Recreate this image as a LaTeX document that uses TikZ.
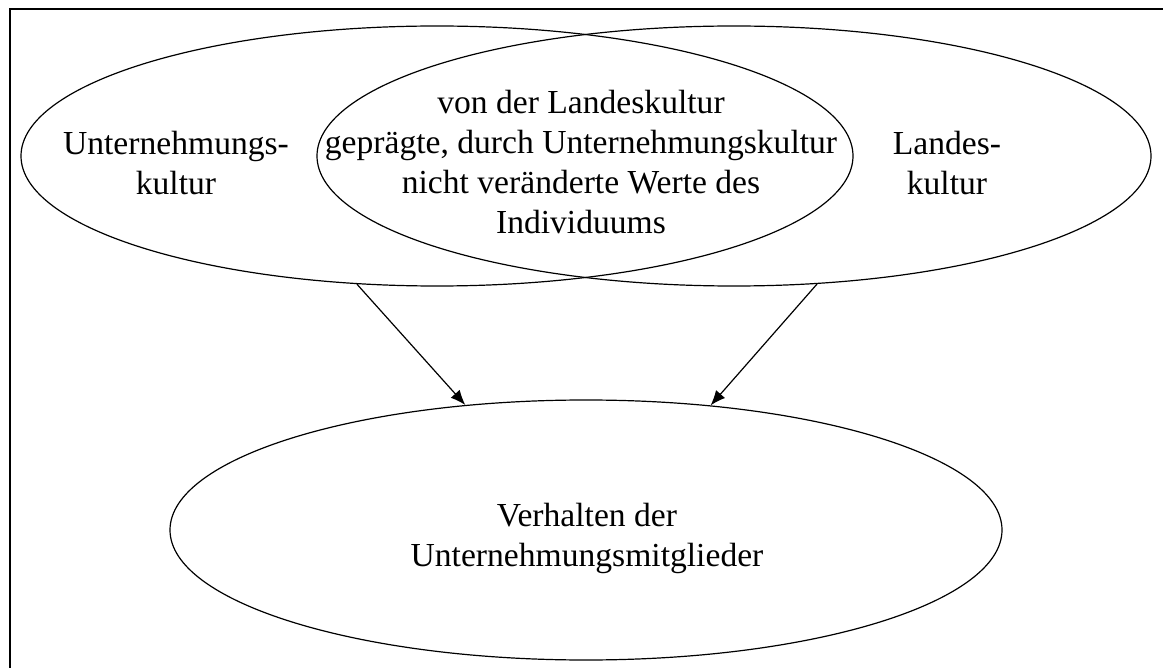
\documentclass[tikz,border=0pt]{standalone}
\usepackage{fontspec}
\setmainfont{Liberation Serif}
\usetikzlibrary{shapes.geometric,arrows.meta}
\begin{document}
\begin{tikzpicture}[x=0.5pt,y=-0.5pt,
  oval/.style={draw, ellipse, line width=0.6pt, inner sep=0pt},
  caption/.style={align=center, font=\fontsize{16.8}{20}\selectfont, inner sep=0pt},
  link/.style={line width=0.6pt, -{Latex[length=7.5pt,width=6pt]}},
  frameline/.style={line width=1pt}]
\useasboundingbox (0,0) rectangle (1163,668);
% frame
\draw[frameline] (10,668) -- (10,9.5) -- (1163,9.5);
% overlapping culture ellipses
\node[oval, minimum width=416pt, minimum height=130pt] (unt) at (437,156) {};
\node[oval, minimum width=417pt, minimum height=130pt] (land) at (734,156) {};
% behaviour ellipse
\node[oval, minimum width=416pt, minimum height=130pt] (verh) at (586,530) {};
% texts
\node[caption] (untT) at (176,163) {Unternehmungs-\\kultur};
\node[caption] (mid) at (581,162) {von der Landeskultur\\geprägte, durch Unternehmungskultur\\nicht veränderte Werte des\\Individuums};
\node[caption] (landT) at (947,163) {Landes-\\kultur};
\node[caption] (verhT) at (587,538) {Verhalten der\\Unternehmungsmitglieder};
% influences
\draw[link] (unt.-122) -- (verh.134);
\draw[link] (land.-57) -- (verh.45.5);
\end{tikzpicture}
\end{document}
